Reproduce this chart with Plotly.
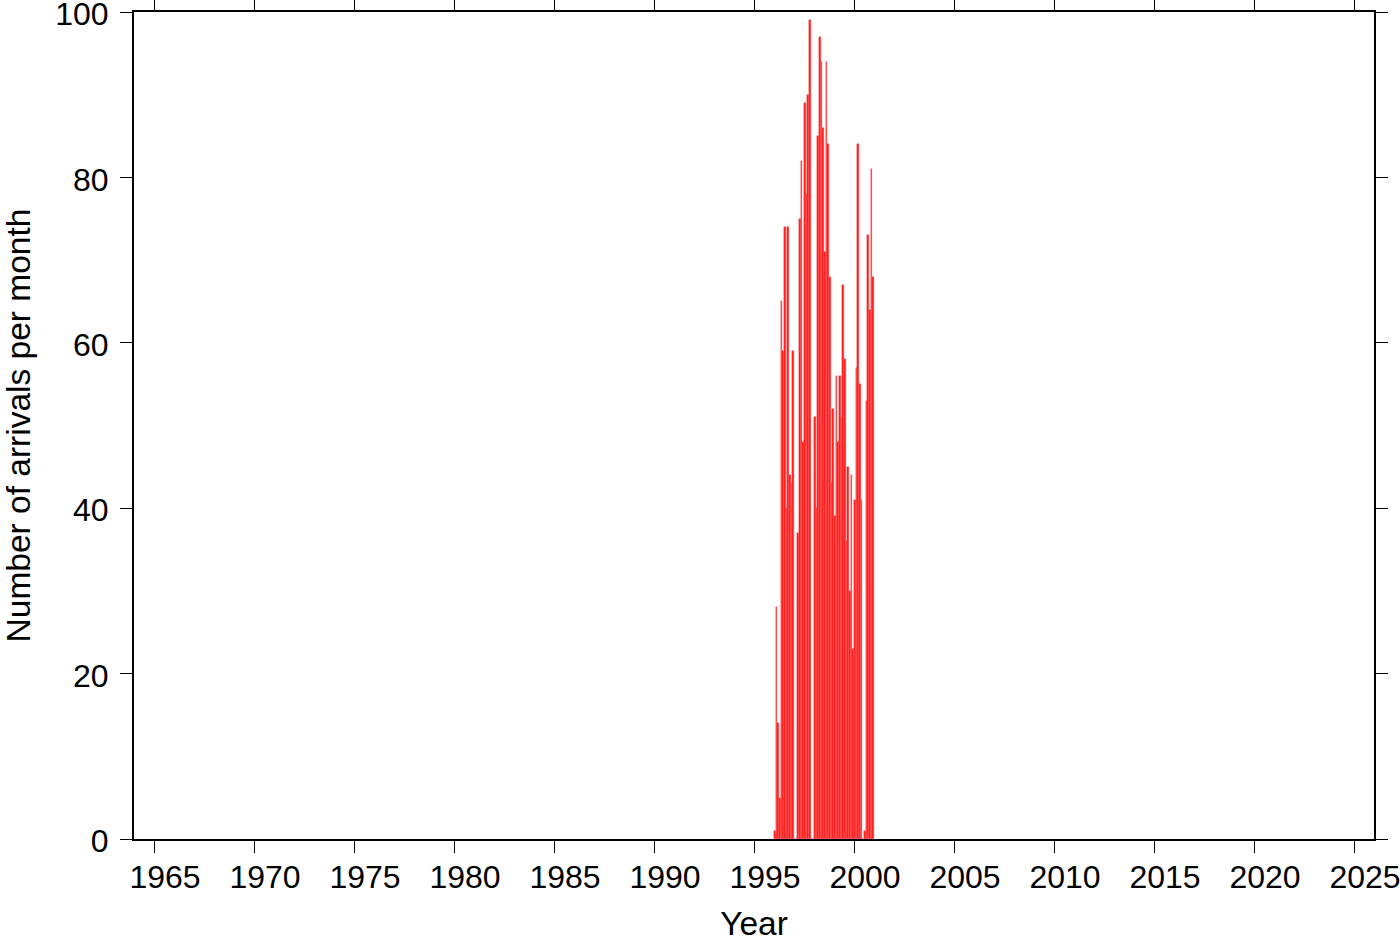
import plotly.graph_objects as go

start_year = 1996
monthly_counts = [1, 28, 14, 5, 65, 59, 74, 40, 74, 44, 43, 59,
                  0, 0, 37, 75, 82, 48, 89, 78, 90, 99, 0, 0,
                  51, 40, 85, 97, 94, 86, 71, 94, 84, 68, 43, 52,
                  39, 56, 48, 56, 51, 67, 58, 36, 45, 30, 44, 23,
                  41, 57, 84, 55, 41, 0, 1, 53, 73, 64, 81, 68]
x_ticks = list(range(1965, 2030, 5))
y_ticks = [0, 20, 40, 60, 80, 100]

x_vals = [start_year + i / 12 + 1 / 24 for i in range(len(monthly_counts))]

fig = go.Figure(go.Bar(
    x=x_vals, y=monthly_counts, width=1 / 12,
    marker=dict(color="rgb(255,25,25)", line=dict(color="rgb(255,90,90)", width=0.4)),
))

font = dict(family="Liberation Sans, Arial, sans-serif", size=32, color="black")
title_font = dict(family="Liberation Sans, Arial, sans-serif", size=33.5, color="black")
axis_common = dict(showline=True, linecolor="black", linewidth=2, mirror="ticks",
                   ticks="outside", ticklen=12, tickwidth=1.2, tickcolor="black",
                   showgrid=False, zeroline=False, tickfont=font, automargin=False,
                   ticklabeloverflow="allow")

fig.update_layout(
    width=1400, height=942,
    margin=dict(l=134, r=26, t=12, b=103),
    paper_bgcolor="white", plot_bgcolor="white",
    showlegend=False, bargap=0,
    xaxis=dict(range=[1964, 2026], tickvals=x_ticks, ticktext=[str(t) for t in x_ticks],
               ticklabelstandoff=-3, ticklabelshift=11,
               title=dict(text="Year", font=title_font, standoff=28), **axis_common),
    yaxis=dict(range=[0, 100], tickvals=y_ticks, ticktext=[str(t) for t in y_ticks],
               ticklabelstandoff=5, ticklabelshift=2,
               title=dict(text="Number of arrivals per month", font=title_font, standoff=52),
               **axis_common),
)

fig.write_html("out.html", config={"displayModeBar": False},
               post_script="document.body.style.margin='0';document.body.style.overflow='hidden';")
